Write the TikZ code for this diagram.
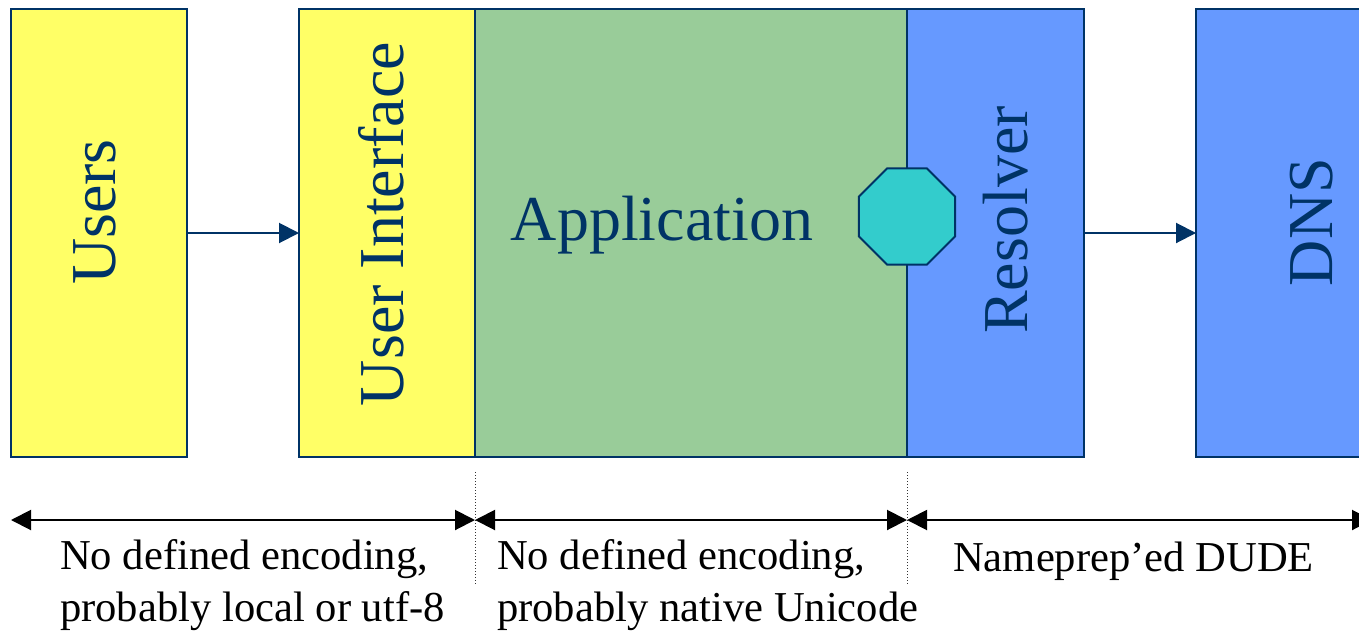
\documentclass[tikz,border=0pt]{standalone}
\usepackage{fontspec}
\setmainfont{Liberation Serif}
\usetikzlibrary{arrows.meta,shapes.geometric}
\definecolor{navy}{HTML}{003366}
\definecolor{ylw}{HTML}{FFFF66}
\definecolor{grn}{HTML}{99CC99}
\definecolor{blu}{HTML}{6699FF}
\definecolor{teal2}{HTML}{33CCCC}
\tikzset{
  box/.style={draw=navy, line width=2pt, rectangle, anchor=north west, inner sep=0pt, outer sep=0pt, minimum height=448pt},
  biglabel/.style={text=navy, font=\fontsize{64}{64}\selectfont, inner sep=0pt},
  flowarrow/.style={draw=navy, line width=2pt, -{Triangle[length=20pt,width=20pt]}},
  spanarrow/.style={draw=black, line width=2pt, {Triangle[length=20pt,width=20pt]}-{Triangle[length=20pt,width=20pt]}},
  divider/.style={draw=black!80, line width=1pt, dotted},
  note/.style={text=black, font=\fontsize{42.6}{52}\selectfont, inner sep=0pt, anchor=base west}
}
\begin{document}
\begin{tikzpicture}[x=1pt,y=-1pt]
\useasboundingbox (0,0) rectangle (1359,632);
\clip (0,0) rectangle (1359,632);
\fill[white] (0,0) rectangle (1359,632);
% boxes
\node[box, fill=ylw, minimum width=176pt] (users) at (11,9) {};
\node[box, fill=ylw, minimum width=176pt] (ui) at (299,9) {};
\node[box, fill=grn, minimum width=432pt] (app) at (475,9) {};
\node[box, fill=blu, minimum width=177pt] (res) at (907,9) {};
\node[box, fill=blu, minimum width=200pt] (dns) at (1196,9) {};
% labels
\node[biglabel, rotate=90, anchor=base] (usersl) at (115,212) {Users};
\node[biglabel, rotate=90, anchor=base] (uil) at (403,224) {User Interface};
\node[biglabel, anchor=base] (appl) at (662,240) {Application};
\node[biglabel, rotate=90, anchor=base] (resl) at (1027,220) {Resolver};
\node[biglabel, rotate=90, anchor=base] (dnsl) at (1332,222) {DNS};
% octagon
\node[regular polygon, regular polygon sides=8, minimum size=104pt, inner sep=0pt, draw=navy, line width=2pt, fill=teal2] (oct) at (907,216.5) {};
% flow arrows
\draw[flowarrow] (users.east |- 0,233) -- (ui.west |- 0,233);
\draw[flowarrow] (res.east |- 0,233) -- (dns.west |- 0,233);
% dividers
\coordinate (v1t) at (475,472); \coordinate (v1b) at (475,585);
\coordinate (v2t) at (907,472); \coordinate (v2b) at (907,585);
\draw[divider] (v1t) -- (v1b);
\draw[divider] (v2t) -- (v2b);
% span arrows
\coordinate (d0) at (11,520);
\coordinate (d1) at (475,520);
\coordinate (d2) at (907,520);
\coordinate (d3) at (1372,520);
\draw[spanarrow] (d0) -- (d1);
\draw[spanarrow] (d1) -- (d2);
\draw[spanarrow] (d2) -- (d3);
% notes
\node[note] (n1a) at (60,569) {No defined encoding,};
\node[note] (n1b) at (60,621) {probably local or utf-8};
\node[note] (n2a) at (497,569) {No defined encoding,};
\node[note] (n2b) at (497,621) {probably native Unicode};
\node[note] (n3) at (953,571) {Nameprep’ed DUDE};
\end{tikzpicture}
\end{document}
